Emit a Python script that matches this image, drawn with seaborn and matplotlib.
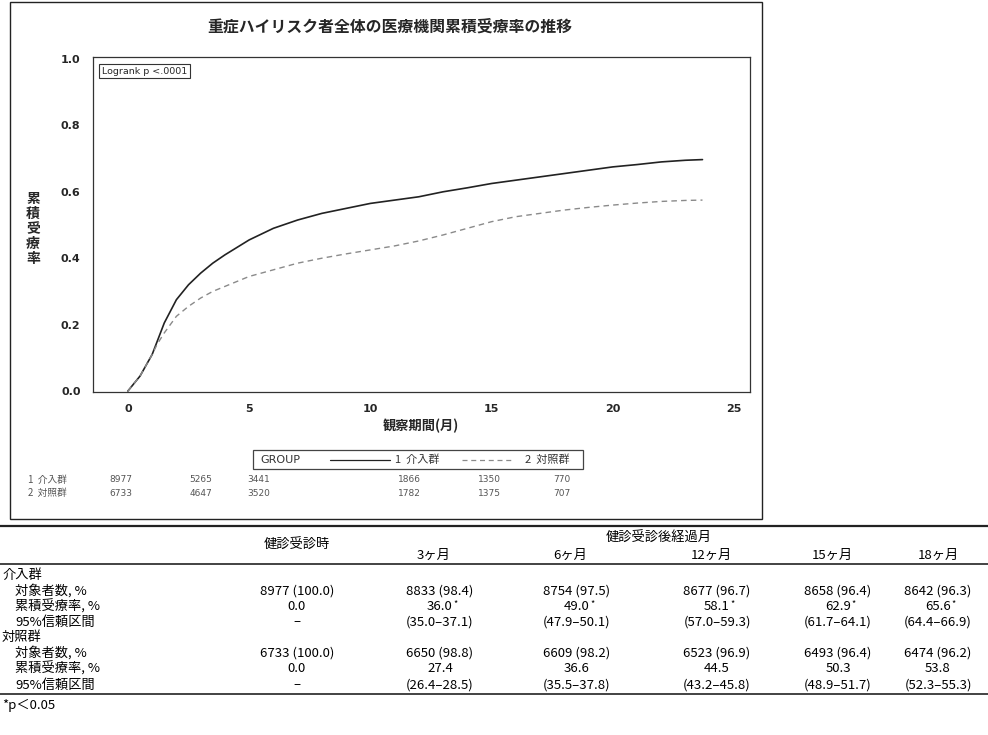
import numpy as np
import pandas as pd
import matplotlib
matplotlib.use("Agg")
import matplotlib.pyplot as plt
import seaborn as sns
from matplotlib.patches import Rectangle
from matplotlib.lines import Line2D
from matplotlib.transforms import blended_transform_factory

# ---------------- data ----------------
months_int = [0, 0.5, 1.0, 1.5, 2.0, 2.5, 3.0, 3.5, 4.0, 5.0, 6.0, 7.0, 8.0, 9.0, 10.0,
              11.0, 12.0, 13.0, 14.0, 15.0, 16.0, 17.0, 18.0, 19.0, 20.0, 21.0, 22.0, 23.0, 23.7]
rate_int = [0.0, 0.045, 0.11, 0.205, 0.275, 0.32, 0.355, 0.385, 0.41, 0.455, 0.49, 0.515, 0.535,
            0.55, 0.565, 0.575, 0.585, 0.60, 0.612, 0.625, 0.635, 0.645, 0.655, 0.665, 0.675,
            0.682, 0.69, 0.695, 0.697]
months_ctl = [0, 0.5, 1.0, 1.2, 1.5, 2.0, 2.5, 3.0, 3.5, 4.0, 5.0, 6.0, 7.0, 8.0, 9.0, 10.0,
              11.0, 12.0, 13.0, 14.0, 15.0, 16.0, 17.0, 18.0, 19.0, 20.0, 21.0, 22.0, 23.0, 23.7]
rate_ctl = [0.0, 0.045, 0.11, 0.14, 0.175, 0.225, 0.255, 0.28, 0.30, 0.315, 0.345, 0.365, 0.385,
            0.40, 0.413, 0.425, 0.437, 0.452, 0.47, 0.49, 0.51, 0.525, 0.535, 0.545, 0.553,
            0.56, 0.566, 0.571, 0.574, 0.575]
group_labels = ["1 介入群", "2 対照群"]

risk_int = [8977, 5265, 3441, 1866, 1350, 770]
risk_ctl = [6733, 4647, 3520, 1782, 1375, 707]

table_cols = ["健診受診時", "3ヶ月", "6ヶ月", "12ヶ月", "15ヶ月", "18ヶ月"]
int_n = [8977, 8833, 8754, 8677, 8658, 8642]
int_pct = [100.0, 98.4, 97.5, 96.7, 96.4, 96.3]
int_rate = [0.0, 36.0, 49.0, 58.1, 62.9, 65.6]
int_ci_lo = [None, 35.0, 47.9, 57.0, 61.7, 64.4]
int_ci_hi = [None, 37.1, 50.1, 59.3, 64.1, 66.9]
int_sig = [False, True, True, True, True, True]
ctl_n = [6733, 6650, 6609, 6523, 6493, 6474]
ctl_pct = [100.0, 98.8, 98.2, 96.9, 96.4, 96.2]
ctl_rate = [0.0, 27.4, 36.6, 44.5, 50.3, 53.8]
ctl_ci_lo = [None, 26.4, 35.5, 43.2, 48.9, 52.3]
ctl_ci_hi = [None, 28.5, 37.8, 45.8, 51.7, 55.3]

# ---------------- style ----------------
sns.set_style("white")
plt.rcParams['font.family'] = ['Noto Sans CJK JP', 'DejaVu Sans']
plt.rcParams['axes.unicode_minus'] = False

W, H = 988, 735
fig = plt.figure(figsize=(W / 100, H / 100), dpi=100)

def fx(x):
    return x / W

def fy(y):
    return 1 - y / H

# chart box
fig.patches.append(Rectangle((fx(10), fy(519)), fx(762) - fx(10), fy(2) - fy(519),
                             transform=fig.transFigure, fill=False, edgecolor='#222222',
                             linewidth=1.0))

# axes
ax_l, ax_r, ax_t, ax_b = 93, 750, 57, 392
ax = fig.add_axes([fx(ax_l), fy(ax_b), fx(ax_r) - fx(ax_l), fy(ax_t) - fy(ax_b)])

df = pd.concat([
    pd.DataFrame({"month": months_int, "rate": rate_int, "group": group_labels[0]}),
    pd.DataFrame({"month": months_ctl, "rate": rate_ctl, "group": group_labels[1]}),
])
palette = {group_labels[0]: "#222222", group_labels[1]: "#8a8a8a"}
dashes = {group_labels[0]: "", group_labels[1]: (4, 3)}
sns.lineplot(data=df, x="month", y="rate", hue="group", style="group", palette=palette,
             dashes=dashes, estimator=None, legend=False, ax=ax, linewidth=1.2)
for ln in ax.lines:
    if ln.get_color() == "#8a8a8a":
        ln.set_linewidth(1.0)

ax.set_xlim(-1.44, 25.66)
ax.set_ylim(-0.003, 1.006)
ax.set_xticks([0, 5, 10, 15, 20, 25])
ax.set_xticklabels(["0", "5", "10", "15", "20", "25"])
ax.set_yticks([0.0, 0.2, 0.4, 0.6, 0.8, 1.0])
ax.set_yticklabels(["0.0", "0.2", "0.4", "0.6", "0.8", "1.0"])
ax.tick_params(axis='both', direction='out', length=4, width=0.8, color='#222222',
               labelsize=8, pad=5)
for lab in ax.get_xticklabels() + ax.get_yticklabels():
    lab.set_fontweight('bold')
    lab.set_family(['DejaVu Sans'])
for s in ax.spines.values():
    s.set_visible(True)
    s.set_color('#333333')
    s.set_linewidth(0.9)
ax.set_xlabel("")
ax.set_ylabel("")

# title and axis labels
fig.text(fx(390), fy(27), "重症ハイリスク者全体の医療機関累積受療率の推移", ha='center', va='center',
         fontsize=11.4, fontweight='bold')
fig.text(fx(421), fy(426), "観察期間(月)", ha='center', va='center', fontsize=9.5,
         fontweight='bold')
fig.text(fx(33), fy(229), "累\n積\n受\n療\n率", ha='center', va='center', fontsize=10,
         fontweight='bold', linespacing=1.1)

# logrank box
fig.text(fx(102), fy(71), "Logrank p <.0001", ha='left', va='center', fontsize=6.8,
         family=['DejaVu Sans'],
         bbox=dict(boxstyle='square,pad=0.3', facecolor='white', edgecolor='#333333', linewidth=0.8))

# legend box (manual)
fig.patches.append(Rectangle((fx(253), fy(469)), fx(583) - fx(253), fy(450) - fy(469),
                             transform=fig.transFigure, fill=False, edgecolor='#444444',
                             linewidth=0.9))
ly = fy(460)
fig.text(fx(260), ly, "GROUP", ha='left', va='center', fontsize=8, color='#333333',
         family=['DejaVu Sans'])
l_int = ax.lines[0]
l_ctl = ax.lines[1]
fig.lines.append(Line2D([fx(330), fx(390)], [ly, ly], transform=fig.transFigure,
                        color=l_int.get_color(), linewidth=0.9))
fig.text(fx(395), ly, "1  介入群", ha='left', va='center', fontsize=8, color='#333333')
fig.lines.append(Line2D([fx(462), fx(513)], [ly, ly], transform=fig.transFigure,
                        color=l_ctl.get_color(), linewidth=0.9, linestyle=(0, (4, 3))))
fig.text(fx(525), ly, "2  対照群", ha='left', va='center', fontsize=8, color='#333333')

# numbers at risk
risk_pos = [-0.3, 3.0, 5.4, 11.6, 14.9, 17.9]
tr = blended_transform_factory(ax.transData, fig.transFigure)
for row_y, lab, vals in [(480, "1  介入群", risk_int), (493, "2  対照群", risk_ctl)]:
    fig.text(fx(28), fy(row_y), lab, ha='left', va='center', fontsize=7, color='#555555')
    for p, v in zip(risk_pos, vals):
        ax.text(p, fy(row_y), f"{v}", transform=tr, ha='center', va='center', fontsize=6.5,
                color='#555555', family=['DejaVu Sans'])

# ---------------- table ----------------
TFS = 9.5
tcol = '#000000'
def hline(y, lw):
    fig.lines.append(Line2D([0, 1], [fy(y), fy(y)], transform=fig.transFigure,
                            color='#222222', linewidth=lw))

hline(526, 1.6)
hline(564, 1.2)
hline(694, 1.2)

val_x = [297, 440, 577, 717, 838, 938]
head_x = [297, 434, 570, 711, 832, 938]
fig.text(fx(659), fy(538), "健診受診後経過月", ha='center', va='center', fontsize=TFS, color=tcol)
fig.text(fx(head_x[0]), fy(545), table_cols[0], ha='center', va='center', fontsize=TFS, color=tcol)
for x, c in zip(head_x[1:], table_cols[1:]):
    fig.text(fx(x), fy(555), c, ha='center', va='center', fontsize=TFS, color=tcol)

def fmt_ci(lo, hi):
    if lo is None:
        return "–"
    return f"({lo:.1f}–{hi:.1f})"

rows_y = {"g1": 575, "n1": 591, "r1": 607, "c1": 622, "g2": 637, "n2": 653, "r2": 669, "c2": 685}
fig.text(fx(2), fy(rows_y["g1"]), "介入群", ha='left', va='center', fontsize=TFS, color=tcol)
fig.text(fx(2), fy(rows_y["g2"]), "対照群", ha='left', va='center', fontsize=TFS, color=tcol)
for key_n, key_r, key_c, n, pct, rate, lo, hi, sig in [
        ("n1", "r1", "c1", int_n, int_pct, int_rate, int_ci_lo, int_ci_hi, int_sig),
        ("n2", "r2", "c2", ctl_n, ctl_pct, ctl_rate, ctl_ci_lo, ctl_ci_hi, [False] * 6)]:
    fig.text(fx(15), fy(rows_y[key_n]), "対象者数, %", ha='left', va='center', fontsize=TFS, color=tcol)
    fig.text(fx(15), fy(rows_y[key_r]), "累積受療率, %", ha='left', va='center', fontsize=TFS, color=tcol)
    fig.text(fx(15), fy(rows_y[key_c]), "95%信頼区間", ha='left', va='center', fontsize=TFS, color=tcol)
    for i, x in enumerate(val_x):
        fig.text(fx(x), fy(rows_y[key_n]), f"{n[i]} ({pct[i]:.1f})", ha='center', va='center',
                 fontsize=TFS, color=tcol)
        fig.text(fx(x), fy(rows_y[key_r]), f"{rate[i]:.1f}", ha='center', va='center',
                 fontsize=TFS, color=tcol)
        if sig[i]:
            fig.text(fx(x + 13), fy(rows_y[key_r] - 3), "*", ha='left', va='center',
                     fontsize=6.5, color=tcol)
        fig.text(fx(x), fy(rows_y[key_c]), fmt_ci(lo[i], hi[i]), ha='center', va='center',
                 fontsize=TFS, color=tcol)

fig.text(fx(2), fy(705), "*p＜0.05", ha='left', va='center', fontsize=TFS, color=tcol)

fig.savefig("out.png", dpi=100)
